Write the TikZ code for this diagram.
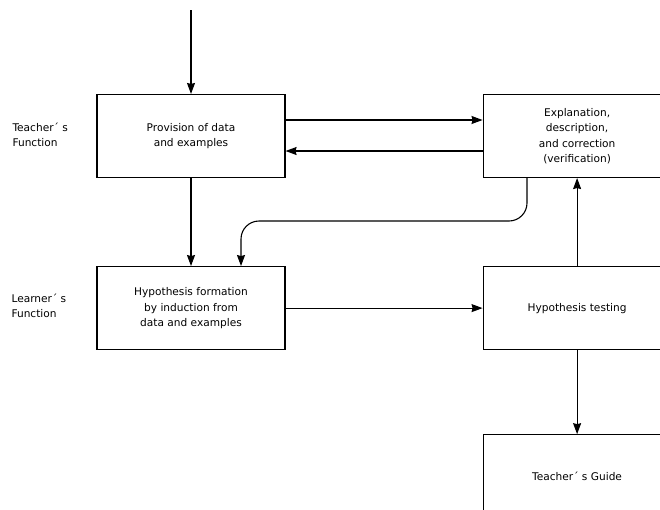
\documentclass[tikz,border=0pt]{standalone}
\usepackage{fontspec}
\setmainfont{DejaVu Sans}
\usetikzlibrary{
  arrows.meta,
  positioning
}
\tikzset{
  >={Stealth[length=11pt,width=8pt,inset=1pt]},
  node distance = 88pt and 197pt,
  box/.style = {draw, line width=1.1pt, minimum width=188pt,
                minimum height=83pt, align=center, inner sep=2pt},
  side/.style = {align=left, anchor=west},
  flow/.style = {->, line width=1.1pt},
}

\begin{document}
\begin{tikzpicture}[x=1pt, y=-1pt, font=\fontsize{10.6}{15.5}\selectfont]
\clip (0,0) rectangle (660,509);
% boxes
\node[box] (prov) at (191,136) {Provision of data\\and examples};
\node[box, right=of prov] (expl) {Explanation,\\description,\\and correction\\(verification)};
\node[box, below=of prov] (form) {Hypothesis formation\\by induction from\\data and examples};
\node[box, right=of form] (test) {Hypothesis testing};
\node[box, below=84pt of test] (guide) {Teacher´ s Guide};
% row labels
\node[side] (tlab) at (9,135) {Teacher´ s\\Function};
\node[side] (llab) at (8,306) {Learner´ s\\Function};
\coordinate (start) at (191,10);
\coordinate (bend) at (527,221);
% connectors
\draw[flow] (start) -- (prov.north);
\draw[flow] ([yshift=16pt]prov.east) -- ([yshift=16pt]prov.east -| expl.west);
\draw[flow] ([yshift=-15pt]prov.east -| expl.west) -- ([yshift=-15pt]prov.east);
\draw[flow] (prov) -- (form);
\draw[flow, rounded corners=18pt] (bend |- expl.south) -- (bend) -- (bend -| 241,0) -- (form.north -| 241,0);
\draw[flow] (form) -- (test);
\draw[flow] (test.north) -- (test.north |- expl.south);
\draw[flow] (test) -- (guide);
\end{tikzpicture}
\end{document}
